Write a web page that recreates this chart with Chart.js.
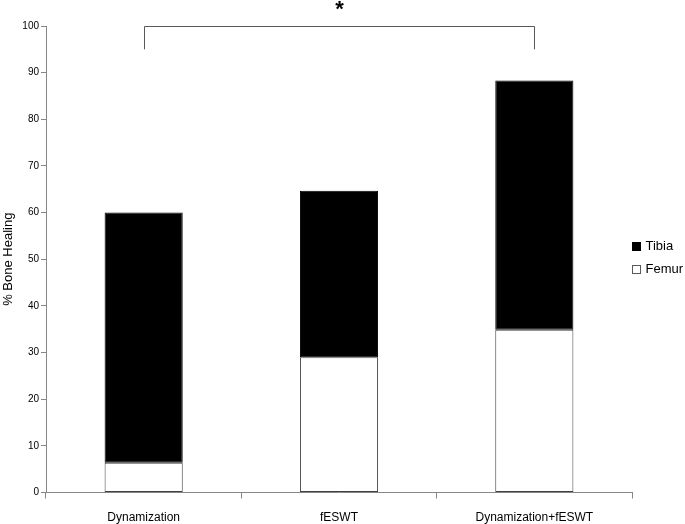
<!DOCTYPE html>
<html>
<head>
<meta charset="utf-8">
<script src="https://cdn.jsdelivr.net/npm/chart.js@4/dist/chart.umd.min.js"></script>
<style>
  html, body { margin: 0; padding: 0; background: #fff; }
  #wrap { width: 685px; height: 524px; position: relative; }
</style>
</head>
<body>
<div id="wrap"><canvas id="c"></canvas></div>
<script>
const categories = ["Dynamization", "fESWT", "Dynamization+fESWT"];
const femurValues = [6.4, 29.0, 34.9];
const tibiaValues = [53.6, 35.7, 53.4];
const yTicks = [0, 10, 20, 30, 40, 50, 60, 70, 80, 90, 100];
const bracketFrom = 0, bracketTo = 2, bracketTop = 100, bracketDrop = 95;
const bracketLabel = "*";

const FONT = "'Liberation Sans', Arial, sans-serif";
const AXIS = "#868686";

const bracketPlugin = {
  id: 'bracket',
  afterDraw(chart) {
    const ctx = chart.ctx, x = chart.scales.x, y = chart.scales.y;
    const x1 = Math.round(x.getPixelForValue(bracketFrom)) + 0.5;
    const x2 = Math.round(x.getPixelForValue(bracketTo)) + 0.5;
    const yt = Math.round(y.getPixelForValue(bracketTop)) + 0.5;
    const yd = y.getPixelForValue(bracketDrop);
    ctx.save();
    ctx.strokeStyle = '#595959';
    ctx.lineWidth = 1;
    ctx.beginPath();
    ctx.moveTo(x1, yd); ctx.lineTo(x1, yt); ctx.lineTo(x2, yt); ctx.lineTo(x2, yd);
    ctx.stroke();
    ctx.fillStyle = '#000';
    ctx.font = "bold 22px " + FONT;
    ctx.textAlign = 'center';
    ctx.textBaseline = 'middle';
    ctx.fillText(bracketLabel, (x1 + x2) / 2, yt - 17);
    ctx.restore();
  }
};

const legendPlugin = {
  id: 'sideLegend',
  afterDraw(chart) {
    const ctx = chart.ctx, area = chart.chartArea;
    const ds = chart.data.datasets.slice().reverse();
    const cy = (area.top + area.bottom) / 2 - 2;
    const gap = 23;
    ctx.save();
    ctx.font = "13px " + FONT;
    ctx.textBaseline = 'middle';
    ds.forEach((d, i) => {
      const yy = Math.round(cy + (i - (ds.length - 1) / 2) * gap) + 0.5;
      const bx = Math.round(area.right) + 0.5;
      ctx.fillStyle = d.backgroundColor;
      ctx.fillRect(bx, yy - 4, 8, 8);
      ctx.strokeStyle = d.legendBorder;
      ctx.lineWidth = 1;
      ctx.strokeRect(bx, yy - 4, 8, 8);
      ctx.fillStyle = '#000';
      ctx.fillText(d.label, bx + 13, yy);
    });
    ctx.restore();
  }
};

new Chart(document.getElementById('c'), {
  type: 'bar',
  data: {
    labels: categories,
    datasets: [
      { label: 'Femur', data: femurValues, backgroundColor: '#ffffff', borderColor: '#404040', legendBorder: '#595959', borderWidth: 1, borderSkipped: false },
      { label: 'Tibia', data: tibiaValues, backgroundColor: '#000000', borderColor: '#000000', legendBorder: '#000000', borderWidth: 1, borderSkipped: false }
    ]
  },
  options: {
    responsive: true,
    maintainAspectRatio: false,
    animation: false,
    layout: { padding: { top: 26, right: 53, left: 0, bottom: 0 } },
    plugins: { legend: { display: false }, tooltip: { enabled: false } },
    datasets: { bar: { barPercentage: 0.4, categoryPercentage: 1.0 } },
    scales: {
      x: {
        stacked: true,
        grid: { display: true, drawOnChartArea: false, tickLength: 6, color: AXIS, offset: true },
        border: { color: AXIS },
        ticks: { color: '#000', font: { family: FONT, size: 12 }, padding: 12, maxRotation: 0 },
        afterFit(s) { s.height = 31.5; }
      },
      y: {
        stacked: true,
        min: 0, max: 100,
        afterBuildTicks(s) { s.ticks = yTicks.map(v => ({ value: v })); },
        grid: { display: true, drawOnChartArea: false, tickLength: 5, color: AXIS },
        border: { color: AXIS },
        ticks: { color: '#000', font: { family: FONT, size: 10 }, padding: 2 },
        title: { display: true, text: '% Bone Healing', color: '#000', font: { family: FONT, size: 13 }, padding: { top: 1, bottom: 0 } },
        afterFit(s) { s.width = 46; }
      }
    }
  },
  plugins: [bracketPlugin, legendPlugin]
});
</script>
</body>
</html>
